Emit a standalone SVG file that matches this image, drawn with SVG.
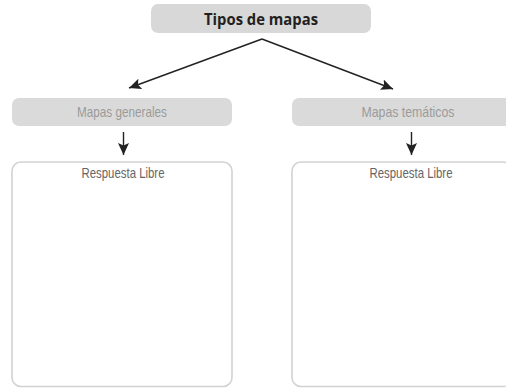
<svg xmlns="http://www.w3.org/2000/svg" width="506" height="388" viewBox="0 0 506 388">
<defs>
<style>
.root{fill:#d8d8d8}
.cat{fill:#dadada}
.ans{fill:#ffffff;stroke:#d2d2d2;stroke-width:1.6}
.t1{font-family:"Open Sans","Liberation Sans",sans-serif;font-weight:bold;font-size:16.5px;fill:#231f20;text-anchor:middle}
.t2{font-family:"Liberation Sans",sans-serif;font-size:14.5px;fill:#9b9b9b;text-anchor:middle}
.t3{font-family:"Liberation Sans",sans-serif;font-size:14.5px;fill:#666666;text-anchor:middle}
.conn{stroke:#222222;stroke-width:1.4;fill:none}
</style>
<marker id="ah" markerUnits="userSpaceOnUse" markerWidth="13" markerHeight="11" refX="12" refY="5.5" orient="auto">
<path d="M0,0 L12,5.5 L0,11 L2.5,5.5 Z" fill="#222222"/>
</marker>
</defs>
<g id="node-tipos">
<rect class="root" x="151" y="4" width="220" height="29" rx="7"/>
<text class="t1" x="261" y="25" textLength="114" lengthAdjust="spacingAndGlyphs">Tipos de mapas</text>
</g>
<g id="node-generales">
<rect class="cat" x="12" y="98" width="220" height="28" rx="7"/>
<text class="t2" x="122" y="117" textLength="90" lengthAdjust="spacingAndGlyphs">Mapas generales</text>
</g>
<g id="node-tematicos">
<rect class="cat" x="292" y="98" width="220" height="28" rx="7"/>
<text class="t2" x="408" y="117" textLength="93" lengthAdjust="spacingAndGlyphs">Mapas temáticos</text>
</g>
<g id="node-resp-generales">
<rect class="ans" x="12" y="162" width="220" height="224.5" rx="9"/>
<text class="t3" x="123" y="177.5" textLength="83" lengthAdjust="spacingAndGlyphs">Respuesta Libre</text>
</g>
<g id="node-resp-tematicos">
<rect class="ans" x="292" y="162" width="220" height="224.5" rx="9"/>
<text class="t3" x="411" y="177.5" textLength="83" lengthAdjust="spacingAndGlyphs">Respuesta Libre</text>
</g>
<g id="connectors">
<line class="conn" x1="262" y1="39" x2="129" y2="88" marker-end="url(#ah)"/>
<line class="conn" x1="262" y1="39" x2="393" y2="89" marker-end="url(#ah)"/>
<line class="conn" x1="123.5" y1="132" x2="123.5" y2="155" marker-end="url(#ah)"/>
<line class="conn" x1="411.5" y1="132" x2="411.5" y2="155" marker-end="url(#ah)"/>
</g>
</svg>
